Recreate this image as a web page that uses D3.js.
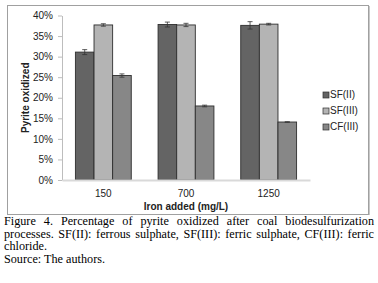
<!DOCTYPE html>
<html>
<head>
<meta charset="utf-8">
<script src="https://cdn.jsdelivr.net/npm/d3@7"></script>
<style>
  body { margin: 0; background: #fff; }
  #wrap { position: relative; width: 378px; height: 283px; overflow: hidden; }
  svg { position: absolute; left: 0; top: 0; }
  #caption {
    position: absolute; left: 4px; top: 215px; width: 370px;
    font-family: "Liberation Serif", "Times New Roman", serif;
    font-size: 12.2px; line-height: 12.6px; color: #000;
  }
  #caption .j { text-align: justify; text-align-last: justify; white-space: nowrap; }
</style>
</head>
<body>
<div id="wrap">
  <svg id="chart" width="378" height="283"></svg>
  <div id="caption">
    <div class="j">Figure 4. Percentage of pyrite oxidized after coal biodesulfurization</div>
    <div class="j">processes. SF(II): ferrous sulphate, SF(III): ferric sulphate, CF(III): ferric</div>
    <div>chloride.</div>
    <div>Source: The authors.</div>
  </div>
</div>
<script>
// data
const categories = ["150", "700", "1250"];
const series = ["SF(II)", "SF(III)", "CF(III)"];
const values = {
  "SF(II)":  [31.1, 37.8, 37.6],
  "SF(III)": [37.7, 37.7, 37.9],
  "CF(III)": [25.4, 18.0, 14.1]
};
const errors = {
  "SF(II)":  [0.6, 0.6, 0.9],
  "SF(III)": [0.3, 0.4, 0.2],
  "CF(III)": [0.4, 0.2, 0.05]
};
const yTicks = [0, 5, 10, 15, 20, 25, 30, 35, 40];
const colors = { "SF(II)": "#646464", "SF(III)": "#b4b4b4", "CF(III)": "#878787" };

const svg = d3.select("#chart");
const font = "'Liberation Sans', Arial, sans-serif";

// outer frame
svg.append("rect")
    .attr("x", 7.5).attr("y", 5.5)
    .attr("width", 361).attr("height", 209)
    .attr("fill", "#fff")
    .attr("stroke", "#a0a0a0");
// slight shadow on right edge like the original
svg.append("line")
    .attr("x1", 369.5).attr("x2", 369.5).attr("y1", 6).attr("y2", 215)
    .attr("stroke", "#c8c8c8");

const plot = { left: 62, right: 310, top: 15.5, bottom: 180 };

const x0 = d3.scaleBand()
    .domain(categories)
    .range([plot.left, plot.right])
    .padding(0);

const x1 = d3.scaleBand()
    .domain(series)
    .range([0, x0.bandwidth()])
    .paddingInner(0)
    .paddingOuter(0.72);

const y = d3.scaleLinear()
    .domain([0, 40])
    .range([plot.bottom, plot.top]);

// y axis
const yAxis = svg.append("g")
    .attr("transform", `translate(${plot.left},0)`)
    .call(d3.axisLeft(y).tickValues(yTicks).tickSize(4).tickSizeOuter(0).tickFormat(d => d + "%"));
yAxis.select(".domain").attr("stroke", "#bdbdbd");
yAxis.selectAll(".tick line").attr("stroke", "#bdbdbd");
yAxis.selectAll("text")
    .attr("x", -9)
    .style("font-family", font)
    .style("font-size", "10px")
    .attr("fill", "#222");

// bars
const rows = [];
categories.forEach((c, i) => series.forEach(s => rows.push({ cat: c, s, v: values[s][i], e: errors[s][i] })));

svg.append("g").selectAll("rect")
    .data(rows)
    .join("rect")
    .attr("x", d => x0(d.cat) + x1(d.s))
    .attr("y", d => y(d.v))
    .attr("width", x1.bandwidth())
    .attr("height", d => y(0) - y(d.v))
    .attr("fill", d => colors[d.s])
    .attr("stroke", "#2e2e2e")
    .attr("stroke-width", 0.9);

// error bars
const eb = svg.append("g").attr("stroke", "#333").attr("stroke-width", 0.8);
rows.forEach(d => {
    const cx = x0(d.cat) + x1(d.s) + x1.bandwidth() / 2;
    eb.append("line").attr("x1", cx).attr("x2", cx).attr("y1", y(d.v + d.e)).attr("y2", y(d.v - d.e));
    eb.append("line").attr("x1", cx - 2.5).attr("x2", cx + 2.5).attr("y1", y(d.v + d.e)).attr("y2", y(d.v + d.e));
    eb.append("line").attr("x1", cx - 2.5).attr("x2", cx + 2.5).attr("y1", y(d.v - d.e)).attr("y2", y(d.v - d.e));
});

// x axis baseline
const xAxis = svg.append("g")
    .attr("transform", `translate(0,${plot.bottom})`)
    .call(d3.axisBottom(x0).tickSize(0).tickSizeOuter(0));
xAxis.select(".domain").attr("stroke", "#d9d9d9").attr("stroke-width", 2);
xAxis.selectAll("text")
    .attr("y", 10)
    .style("font-family", font)
    .style("font-size", "10px")
    .attr("fill", "#222");

// axis titles
svg.append("text")
    .attr("x", (plot.left + plot.right) / 2)
    .attr("y", 210)
    .attr("text-anchor", "middle")
    .style("font-family", font)
    .style("font-size", "10px")
    .style("font-weight", "bold")
    .attr("fill", "#222")
    .text("Iron added (mg/L)");

svg.append("text")
    .attr("transform", `translate(29,${(plot.top + plot.bottom) / 2}) rotate(-90)`)
    .attr("text-anchor", "middle")
    .style("font-family", font)
    .style("font-size", "10px")
    .style("font-weight", "bold")
    .attr("fill", "#222")
    .text("Pyrite oxidized");

// legend
const legend = svg.append("g").attr("transform", "translate(323,98)");
series.forEach((s, i) => {
    const g = legend.append("g").attr("transform", `translate(0,${i * 16})`);
    g.append("rect")
        .attr("x", 0).attr("y", -6)
        .attr("width", 6).attr("height", 6)
        .attr("fill", colors[s])
        .attr("stroke", "#2e2e2e")
        .attr("stroke-width", 0.7);
    g.append("text")
        .attr("x", 7).attr("y", 0)
        .style("font-family", font)
        .style("font-size", "10px")
        .attr("fill", "#222")
        .text(s);
});
</script>
</body>
</html>
